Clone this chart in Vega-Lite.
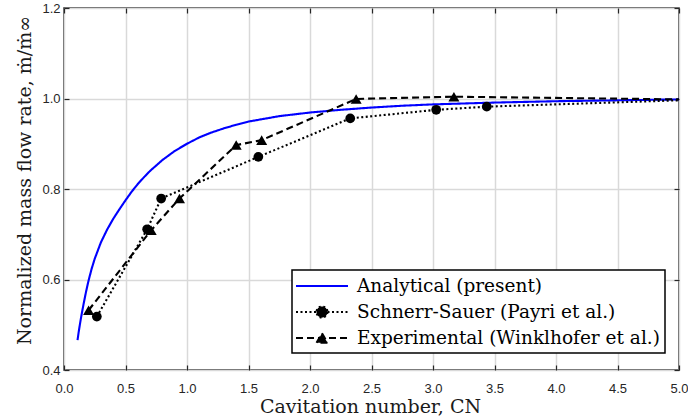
{
  "$schema": "https://vega.github.io/schema/vega-lite/v6.json",
  "width": 615,
  "height": 362,
  "autosize": {"type": "none"},
  "padding": {"left": 64, "top": 8, "right": 9, "bottom": 50},
  "background": "white",
  "config": {
    "view": {"stroke": "#262626", "strokeWidth": 1.5},
    "axis": {
      "domain": false,
      "labelFont": "Liberation Sans",
      "labelFontSize": 13,
      "labelColor": "#262626",
      "labelFlush": false,
      "labelOverlap": false,
      "tickColor": "#262626",
      "tickWidth": 1.2,
      "titleFont": "DejaVu Serif",
      "titleFontSize": 19,
      "titleFontWeight": "normal",
      "titleColor": "#1a1a1a",
      "gridColor": "#d9d9d9",
      "gridWidth": 1.5
    }
  },
  "data": {
    "values": [
      {"series": "Analytical (present)", "x": 0.11, "y": 0.466},
      {"series": "Analytical (present)", "x": 0.12, "y": 0.485},
      {"series": "Analytical (present)", "x": 0.13, "y": 0.502},
      {"series": "Analytical (present)", "x": 0.14, "y": 0.518},
      {"series": "Analytical (present)", "x": 0.16, "y": 0.547},
      {"series": "Analytical (present)", "x": 0.18, "y": 0.574},
      {"series": "Analytical (present)", "x": 0.2, "y": 0.598},
      {"series": "Analytical (present)", "x": 0.225, "y": 0.624},
      {"series": "Analytical (present)", "x": 0.25, "y": 0.646},
      {"series": "Analytical (present)", "x": 0.3, "y": 0.682},
      {"series": "Analytical (present)", "x": 0.35, "y": 0.71},
      {"series": "Analytical (present)", "x": 0.4, "y": 0.734},
      {"series": "Analytical (present)", "x": 0.45, "y": 0.755},
      {"series": "Analytical (present)", "x": 0.5, "y": 0.775},
      {"series": "Analytical (present)", "x": 0.55, "y": 0.794},
      {"series": "Analytical (present)", "x": 0.6, "y": 0.811},
      {"series": "Analytical (present)", "x": 0.65, "y": 0.826},
      {"series": "Analytical (present)", "x": 0.7, "y": 0.84},
      {"series": "Analytical (present)", "x": 0.8, "y": 0.864},
      {"series": "Analytical (present)", "x": 0.9, "y": 0.884},
      {"series": "Analytical (present)", "x": 1.0, "y": 0.9},
      {"series": "Analytical (present)", "x": 1.1, "y": 0.914},
      {"series": "Analytical (present)", "x": 1.2, "y": 0.925},
      {"series": "Analytical (present)", "x": 1.3, "y": 0.934},
      {"series": "Analytical (present)", "x": 1.4, "y": 0.942},
      {"series": "Analytical (present)", "x": 1.5, "y": 0.949},
      {"series": "Analytical (present)", "x": 1.75, "y": 0.961},
      {"series": "Analytical (present)", "x": 2.0, "y": 0.969},
      {"series": "Analytical (present)", "x": 2.25, "y": 0.975},
      {"series": "Analytical (present)", "x": 2.5, "y": 0.98},
      {"series": "Analytical (present)", "x": 2.75, "y": 0.984},
      {"series": "Analytical (present)", "x": 3.0, "y": 0.987},
      {"series": "Analytical (present)", "x": 3.5, "y": 0.991},
      {"series": "Analytical (present)", "x": 4.0, "y": 0.994},
      {"series": "Analytical (present)", "x": 4.5, "y": 0.996},
      {"series": "Analytical (present)", "x": 5.0, "y": 0.998},
      {"series": "Schnerr-Sauer (Payri et al.)", "x": 0.267, "y": 0.518},
      {"series": "Schnerr-Sauer (Payri et al.)", "x": 0.676, "y": 0.711},
      {"series": "Schnerr-Sauer (Payri et al.)", "x": 0.79, "y": 0.779},
      {"series": "Schnerr-Sauer (Payri et al.)", "x": 1.58, "y": 0.871},
      {"series": "Schnerr-Sauer (Payri et al.)", "x": 2.327, "y": 0.956},
      {"series": "Schnerr-Sauer (Payri et al.)", "x": 3.026, "y": 0.975},
      {"series": "Schnerr-Sauer (Payri et al.)", "x": 3.437, "y": 0.982},
      {"series": "Schnerr-Sauer (Payri et al.)", "x": 5.0, "y": 0.996},
      {"series": "Experimental (Winklhofer et al.)", "x": 0.2, "y": 0.532},
      {"series": "Experimental (Winklhofer et al.)", "x": 0.709, "y": 0.709},
      {"series": "Experimental (Winklhofer et al.)", "x": 0.939, "y": 0.779},
      {"series": "Experimental (Winklhofer et al.)", "x": 1.4, "y": 0.897},
      {"series": "Experimental (Winklhofer et al.)", "x": 1.607, "y": 0.908},
      {"series": "Experimental (Winklhofer et al.)", "x": 2.375, "y": 0.999},
      {"series": "Experimental (Winklhofer et al.)", "x": 3.17, "y": 1.004},
      {"series": "Experimental (Winklhofer et al.)", "x": 5.0, "y": 0.998}
    ]
  },
  "resolve": {"axis": {"x": "independent", "y": "independent"}},
  "layer": [
    {
      "mark": {"type": "line", "strokeWidth": 2.1, "clip": true},
      "encoding": {
        "x": {
          "field": "x", "type": "quantitative",
          "scale": {"domain": [0, 5], "nice": false},
          "axis": {
            "orient": "bottom",
            "values": [0, 0.5, 1, 1.5, 2, 2.5, 3, 3.5, 4, 4.5, 5],
            "format": ".1f",
            "labelFont": "Liberation Sans",
            "labelFontSize": 13,
            "labelFlush": false,
            "tickSize": -5,
            "labelPadding": 17,
            "grid": true,
            "title": "Cavitation number, CN",
            "titleX": 306,
            "titleY": 42,
            "titleBaseline": "alphabetic",
            "titleAlign": "center",
            "titleAnchor": null
          }
        },
        "y": {
          "field": "y", "type": "quantitative",
          "scale": {"domain": [0.4, 1.2], "nice": false, "zero": false},
          "axis": {
            "orient": "left",
            "values": [0.4, 0.6, 0.8, 1.0, 1.2],
            "format": ".1f",
            "labelFont": "Liberation Sans",
            "labelFontSize": 13,
            "labelFlush": false,
            "tickSize": -5,
            "labelPadding": 9,
            "grid": true,
            "title": "Normalized mass flow rate, ṁ/ṁ∞",
            "titleAngle": -90,
            "titleX": -34,
            "titleY": 172,
            "titleBaseline": "alphabetic",
            "titleAlign": "center",
            "titleAnchor": null
          }
        },
        "color": {
          "field": "series", "type": "nominal",
          "scale": {
            "domain": ["Analytical (present)", "Schnerr-Sauer (Payri et al.)", "Experimental (Winklhofer et al.)"],
            "range": ["#0000ff", "#000000", "#000000"]
          },
          "legend": {
            "orient": "none",
            "legendX": 228,
            "legendY": 262,
            "title": null,
            "padding": 5,
            "symbolSize": 400,
            "symbolOffset": 14,
            "labelOffset": 24,
            "rowPadding": 5,
            "labelLimit": 500,
            "labelFont": "DejaVu Serif",
            "labelFontSize": 18.5,
            "labelColor": "#000000",
            "strokeColor": "#000000",
            "fillColor": "#ffffff",
            "encode": {
              "legend": {"update": {"strokeWidth": {"value": 1.5}}},
              "symbols": {
                "update": {
                  "shape": {"signal": "datum.value === 'Analytical (present)' ? 'M-2.6,0L2.6,0' : datum.value === 'Schnerr-Sauer (Payri et al.)' ? 'M-2.6,0L2.6,0M0.55,0C0.55,0.3038 0.3038,0.55 0,0.55C-0.3038,0.55 -0.55,0.3038 -0.55,0C-0.55,-0.3038 -0.3038,-0.55 0,-0.55C0.3038,-0.55 0.55,-0.3038 0.55,0Z' : 'M-2.6,0L2.6,0M0,-0.475L0.55,0.475L-0.55,0.475Z'"},
                  "fill": {"value": "#000000"},
                  "fillOpacity": {"value": 1},
                  "stroke": {"signal": "datum.value === 'Analytical (present)' ? '#0000ff' : '#000000'"},
                  "strokeWidth": {"value": 2},
                  "strokeDash": {"signal": "datum.value === 'Schnerr-Sauer (Payri et al.)' ? [2, 2.5] : datum.value === 'Experimental (Winklhofer et al.)' ? [7, 4] : [1, 0]"}
                }
              }
            }
          }
        },
        "strokeDash": {
          "field": "series", "type": "nominal",
          "scale": {
            "domain": ["Analytical (present)", "Schnerr-Sauer (Payri et al.)", "Experimental (Winklhofer et al.)"],
            "range": [[1, 0], [2, 2.5], [7, 4]]
          },
          "legend": null
        }
      }
    },
    {
      "transform": [{"filter": "datum.series === 'Schnerr-Sauer (Payri et al.)' && datum.x < 4.9"}],
      "mark": {"type": "point", "shape": "circle", "filled": true, "size": 95, "color": "#000000", "opacity": 1},
      "encoding": {
        "x": {
          "field": "x", "type": "quantitative",
          "axis": {"orient": "top", "values": [0, 0.5, 1, 1.5, 2, 2.5, 3, 3.5, 4, 4.5, 5], "labels": false, "tickSize": -5, "grid": false, "title": null}
        },
        "y": {
          "field": "y", "type": "quantitative",
          "axis": {"orient": "right", "values": [0.4, 0.6, 0.8, 1.0, 1.2], "labels": false, "tickSize": -5, "grid": false, "title": null}
        }
      }
    },
    {
      "transform": [{"filter": "datum.series === 'Experimental (Winklhofer et al.)' && datum.x < 4.9"}],
      "mark": {"type": "point", "shape": "triangle-up", "filled": true, "size": 121, "color": "#000000", "opacity": 1},
      "encoding": {
        "x": {"field": "x", "type": "quantitative", "axis": null},
        "y": {"field": "y", "type": "quantitative", "axis": null}
      }
    }
  ]
}
